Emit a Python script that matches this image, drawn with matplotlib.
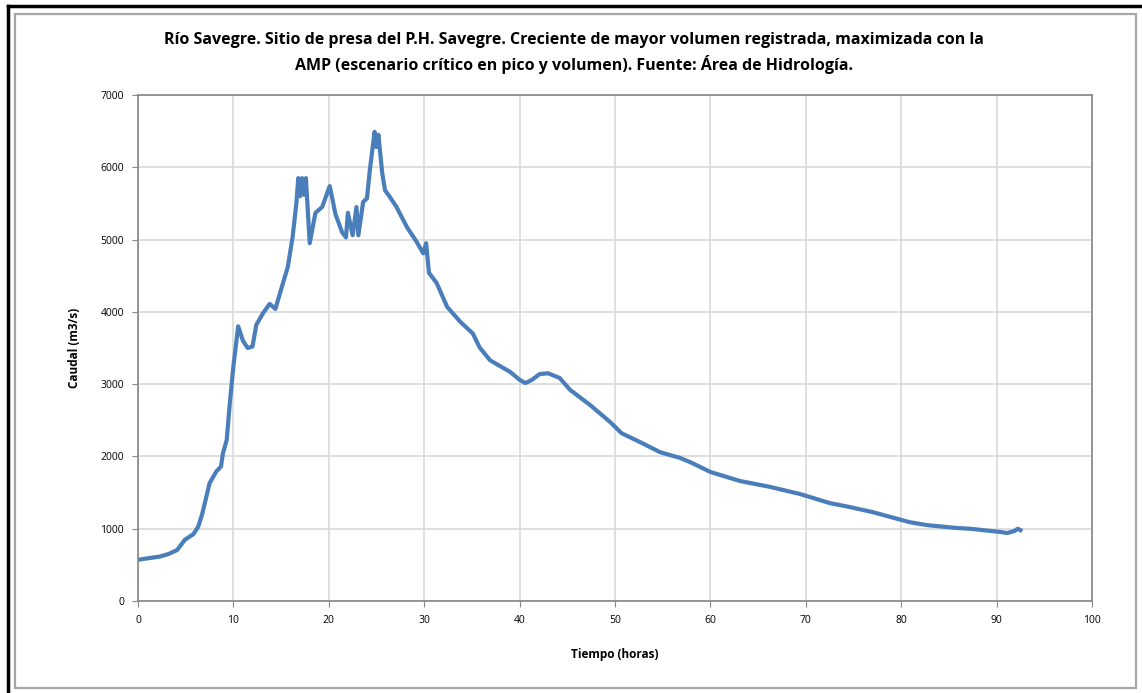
import matplotlib.pyplot as plt
from matplotlib.lines import Line2D
from matplotlib.patches import Rectangle

# hidrograma
horas = [0, 1, 2.3, 3.2, 4.1, 4.9, 5.8, 6.3, 6.7, 7.0, 7.5, 8.2, 8.7, 8.9, 9.3,
         9.6, 10.0, 10.5, 11.0, 11.5, 12.0, 12.4, 13.1, 13.8, 14.4, 15.2, 15.7,
         16.2, 16.6, 16.8, 17.0, 17.2, 17.4, 17.6, 18.0, 18.6, 19.3, 20.1, 20.7,
         21.4, 21.8, 22.0, 22.5, 22.9, 23.1, 23.6, 24.0, 24.3, 24.8, 25.0, 25.2,
         25.6, 25.9, 26.4, 27.1, 28.2, 29.2, 29.9, 30.2, 30.5, 31.3, 32.4, 33.8,
         35.1, 35.8, 36.9, 39.0, 40.0, 40.6, 41.3, 42.1, 43.0, 44.2, 45.3, 47.4,
         49.5, 50.7, 52.6, 54.7, 56.8, 57.9, 60.0, 63.1, 66.2, 69.4, 72.5, 74.6,
         77.0, 79.5, 80.9, 82.7, 85.8, 87.2, 89.3, 90.4, 91.1, 91.9, 92.2, 92.5]
caudal = [570, 590, 615, 650, 705, 845, 925, 1025, 1190, 1350, 1630, 1790, 1860,
          2040, 2230, 2700, 3250, 3800, 3600, 3500, 3520, 3820, 3980, 4110, 4040,
          4400, 4620, 5030, 5500, 5850, 5600, 5850, 5620, 5850, 4950, 5370, 5450,
          5740, 5350, 5100, 5030, 5370, 5060, 5450, 5060, 5520, 5570, 5960, 6490,
          6280, 6450, 5920, 5680, 5590, 5450, 5170, 4970, 4810, 4950, 4540, 4400,
          4070, 3860, 3700, 3510, 3330, 3170, 3060, 3015, 3060, 3140, 3150, 3085,
          2920, 2710, 2475, 2320, 2200, 2060, 1980, 1920, 1785, 1660, 1580, 1480,
          1355, 1300, 1230, 1140, 1090, 1050, 1010, 1000, 970, 955, 940, 970,
          1000, 980]

plt.rcParams['font.family'] = ['Open Sans', 'DejaVu Sans']

fig = plt.figure(figsize=(11.42, 6.93), dpi=100)
ax = fig.add_axes([138/1142, 1 - 601/693, (1092-138)/1142, (601-95)/693])

# marcos exteriores (captura de Excel)
fig.add_artist(Line2D([8/1142, 8/1142], [0, 1 - 6/693], color='black', lw=2.5,
                      transform=fig.transFigure))
fig.add_artist(Line2D([8/1142, 1], [1 - 6/693, 1 - 6/693], color='black', lw=2.5,
                      transform=fig.transFigure))
fig.add_artist(Rectangle((15/1142, 1 - 688/693), (1136-15)/1142, (688-14)/693,
                         fill=False, ec='#a6a6a6', lw=1.6, transform=fig.transFigure))

ax.plot(horas, caudal, color='#4a7ebb', lw=3, solid_joinstyle='round')

ax.set_xlim(0, 100)
ax.set_ylim(0, 7000)
ax.set_xticks(range(0, 101, 10))
ax.set_yticks(range(0, 7001, 1000))
ax.grid(True, color='#d9d9d9', lw=1.2)
ax.set_axisbelow(True)
for s in ax.spines.values():
    s.set_color('#868686')
    s.set_linewidth(1.2)
ax.tick_params(direction='out', length=4, color='#868686', labelsize=7.5, pad=6)

ax.set_xlabel('Tiempo (horas)', fontsize=8.5, fontweight='bold', labelpad=16)
ax.set_ylabel('Caudal (m3/s)', fontsize=8.5, fontweight='bold', labelpad=14)

fig.text(0.5 + 3/1142, 1 - 53/693,
         'Río Savegre. Sitio de presa del P.H. Savegre. Creciente de mayor volumen registrada, maximizada con la\n'
         'AMP (escenario crítico en pico y volumen). Fuente: Área de Hidrología.',
         ha='center', va='center', fontsize=11.5, fontweight='bold', linespacing=1.5)

fig.savefig('out.png', dpi=100)
